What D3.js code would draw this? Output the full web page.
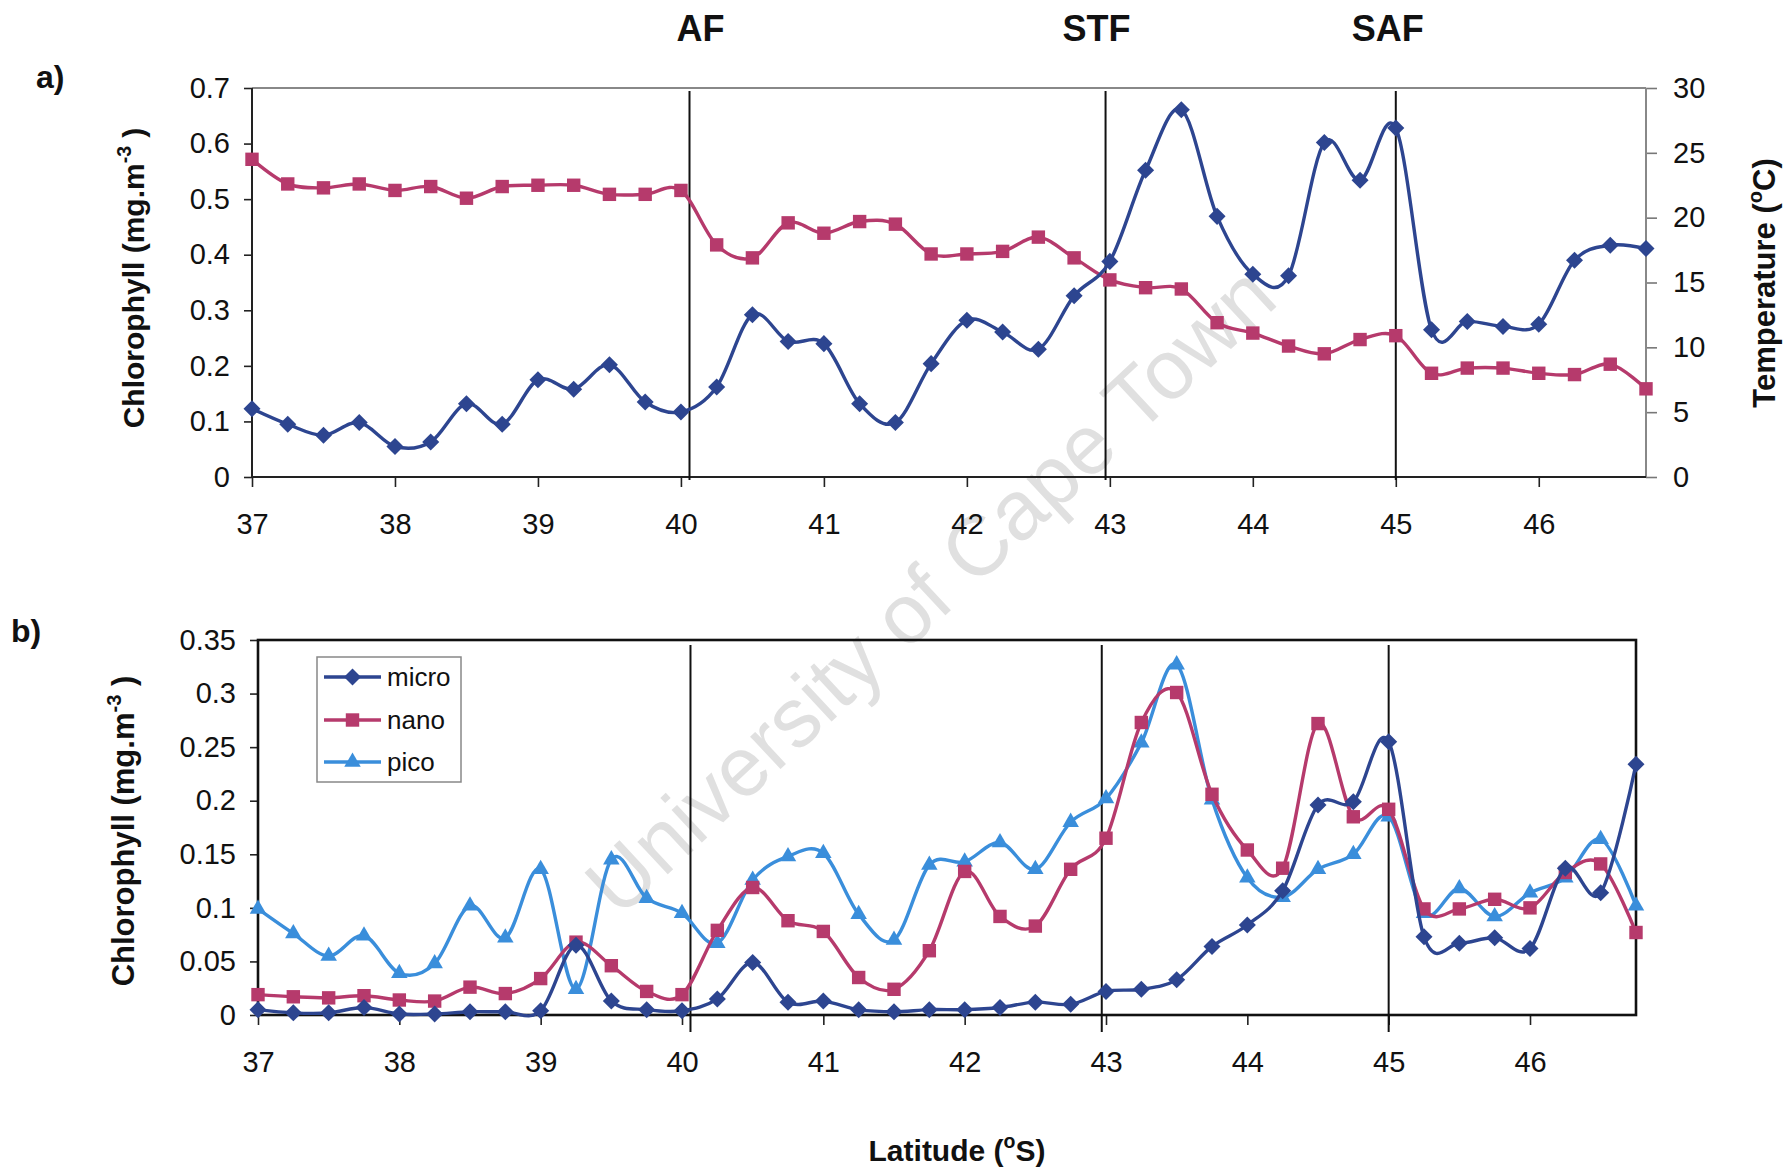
<!DOCTYPE html>
<html><head><meta charset="utf-8">
<script src="https://cdn.jsdelivr.net/npm/d3@7"></script>
<style>body{margin:0;background:#fff}svg text{font-family:"Liberation Sans",Arial,sans-serif}</style>
</head><body><svg id="c" width="1784" height="1171"></svg>
<script>
// ---------- data ----------
const latitude = [37,37.25,37.5,37.75,38,38.25,38.5,38.75,39,39.25,39.5,39.75,40,40.25,
  40.5,40.75,41,41.25,41.5,41.75,42,42.25,42.5,42.75,43,43.25,
  43.5,43.75,44,44.25,44.5,44.75,45,45.25,45.5,45.75,46,46.25,46.5,46.75];
// panel a
const chlorophyll = [0.123,0.095,0.075,0.098,0.055,0.063,0.132,0.095,0.175,0.158,0.202,0.135,0.117,0.162,
  0.292,0.244,0.240,0.132,0.098,0.204,0.282,0.261,0.230,0.326,0.388,0.552,
  0.661,0.469,0.365,0.362,0.602,0.534,0.628,0.265,0.280,0.271,0.275,0.390,0.417,0.411];
const temperature = [24.5,22.6,22.3,22.6,22.1,22.4,21.5,22.4,22.5,22.5,21.8,21.8,22.1,17.9,
  16.9,19.6,18.8,19.7,19.5,17.2,17.2,17.4,18.5,16.9,15.2,14.6,
  14.5,11.9,11.1,10.1,9.5,10.6,10.9,8.0,8.4,8.4,8.0,7.9,8.7,6.8];
// panel b
const micro = [0.005,0.002,0.002,0.007,0.001,0.001,0.003,0.003,0.004,0.065,0.013,0.005,0.004,0.015,
  0.049,0.012,0.013,0.005,0.003,0.005,0.005,0.007,0.012,0.010,0.022,0.024,
  0.033,0.064,0.084,0.116,0.196,0.199,0.255,0.073,0.067,0.072,0.062,0.137,0.114,0.234];
const nano = [0.019,0.017,0.016,0.018,0.014,0.013,0.026,0.020,0.034,0.068,0.046,0.022,0.019,0.079,
  0.119,0.088,0.078,0.035,0.024,0.060,0.134,0.092,0.083,0.136,0.165,0.273,
  0.301,0.206,0.154,0.137,0.272,0.185,0.192,0.099,0.099,0.108,0.100,0.133,0.141,0.077];
const pico = [0.099,0.076,0.055,0.074,0.039,0.048,0.102,0.072,0.136,0.024,0.145,0.109,0.095,0.067,
  0.126,0.148,0.151,0.094,0.070,0.140,0.143,0.161,0.136,0.180,0.202,0.254,
  0.327,0.201,0.128,0.110,0.136,0.150,0.185,0.095,0.118,0.092,0.114,0.128,0.164,0.102];
const seriesNames = ["micro","nano","pico"];
const fronts = [40.06, 42.97, 45.0];
const frontNames = ["AF","STF","SAF"];
const latTicks = [37,38,39,40,41,42,43,44,45,46];
const chlTicksA = [0,0.1,0.2,0.3,0.4,0.5,0.6,0.7];
const tempTicks = [0,5,10,15,20,25,30];
const chlTicksB = [0,0.05,0.1,0.15,0.2,0.25,0.3,0.35];

// ---------- styles ----------
const C_DARK = "#2d4590", C_RED = "#b63a6c", C_LIGHT = "#3a8edb";
const svg = d3.select("#c");
const FONT_TICK = 29;

// watermark
svg.append("text").attr("transform","translate(930,590) rotate(-43)")
  .attr("text-anchor","middle").attr("dominant-baseline","central")
  .attr("font-size",84).attr("fill","#e0e0e0").text("University of Cape Town");

const curve = d3.curveCardinal.tension(0);
function marker(g, type, cx, cy, color){
  let sym, rot = 0;
  if(type==="diamond"){ sym = d3.symbol(d3.symbolSquare, 145); rot = 45; }
  else if(type==="square"){ sym = d3.symbol(d3.symbolSquare, 180); }
  else { sym = d3.symbol(d3.symbolTriangle, 118); }
  g.append("path").attr("d", sym()).attr("fill", color)
    .attr("transform", `translate(${cx},${cy}) rotate(${rot})`);
}
function drawSeries(g, xs, ys, values, color, type){
  const pts = latitude.map((l,i)=>[xs(l), ys(values[i])]);
  g.append("path").attr("d", d3.line().curve(curve)(pts))
    .attr("fill","none").attr("stroke",color).attr("stroke-width",3.4);
  pts.forEach(p=>marker(g,type,p[0],p[1],color));
}
function styleAxis(sel, color){
  sel.select(".domain").remove();
  sel.selectAll(".tick line").attr("stroke",color).attr("stroke-width",1.6);
  sel.selectAll(".tick text").attr("font-size",FONT_TICK).attr("fill","#111")
     .style("font-family",'"Liberation Sans",Arial,sans-serif');
}

// ---------- panel a ----------
const A = {l:252, r:1646, t:88, b:477};
const xA = d3.scaleLinear().domain([37,46.75]).range([A.l,A.r]);
const yA = d3.scaleLinear().domain([0,0.7]).range([A.b,A.t]);
const tA = d3.scaleLinear().domain([0,30]).range([A.b,A.t]);
const gA = svg.append("g");

gA.append("g").attr("transform",`translate(${A.l},0)`)
  .call(d3.axisLeft(yA).tickValues(chlTicksA).tickFormat(d=>String(d)).tickSize(8).tickPadding(14))
  .call(s=>styleAxis(s,"#222"));
gA.append("g").attr("transform",`translate(${A.r},0)`)
  .call(d3.axisRight(tA).tickValues(tempTicks).tickSize(11).tickPadding(16))
  .call(s=>styleAxis(s,"#777"));
gA.append("g").attr("transform",`translate(0,${A.b})`)
  .call(d3.axisBottom(xA).tickValues(latTicks).tickFormat(d=>String(d)).tickSize(10).tickPadding(26))
  .call(s=>styleAxis(s,"#222"));
// frame
gA.append("line").attr("x1",A.l).attr("x2",A.r).attr("y1",A.t).attr("y2",A.t).attr("stroke","#888").attr("stroke-width",2);
gA.append("line").attr("x1",A.r).attr("x2",A.r).attr("y1",A.t).attr("y2",A.b).attr("stroke","#888").attr("stroke-width",2);
gA.append("line").attr("x1",A.l).attr("x2",A.l).attr("y1",A.t).attr("y2",A.b).attr("stroke","#222").attr("stroke-width",2);
gA.append("line").attr("x1",A.l).attr("x2",A.r).attr("y1",A.b).attr("y2",A.b).attr("stroke","#222").attr("stroke-width",2);
// fronts
fronts.forEach(f=>{
  gA.append("line").attr("x1",xA(f)).attr("x2",xA(f)).attr("y1",A.t+3).attr("y2",A.b+3)
    .attr("stroke","#111").attr("stroke-width",2);
});
const frontDx = [11,-9,-8];
fronts.forEach((f,i)=>{
  svg.append("text").attr("x",xA(f)+frontDx[i]).attr("y",41).attr("text-anchor","middle")
    .attr("font-size",36).attr("font-weight","bold").attr("fill","#111").text(frontNames[i]);
});
drawSeries(gA, xA, tA, temperature, C_RED, "square");
drawSeries(gA, xA, yA, chlorophyll, C_DARK, "diamond");

// titles a
function supLabel(parent, x, y, rot, pre, sup, post, size){
  const t = parent.append("text").attr("transform",`translate(${x},${y}) rotate(${rot})`)
    .attr("text-anchor","middle").attr("font-size",size).attr("font-weight","bold").attr("fill","#111");
  t.append("tspan").text(pre);
  t.append("tspan").attr("font-size",size*0.65).attr("dy",-size*0.42).text(sup);
  t.append("tspan").attr("dy",size*0.42).text(post);
  return t;
}
supLabel(svg, 144, 278, -90, "Chlorophyll (mg.m", "-3", " )", 30);
supLabel(svg, 1775, 283, -90, "Temperature (", "o", "C)", 31);
svg.append("text").attr("x",36).attr("y",88).attr("font-size",32).attr("font-weight","bold").attr("fill","#111").text("a)");

// ---------- panel b ----------
const B = {l:258, r:1636, t:640, b:1015};
const xB = d3.scaleLinear().domain([37,46.75]).range([B.l,B.r]);
const yB = d3.scaleLinear().domain([0,0.35]).range([B.b,B.t]);
const gB = svg.append("g");
gB.append("g").attr("transform",`translate(${B.l},0)`)
  .call(d3.axisLeft(yB).tickValues(chlTicksB).tickFormat(d=>String(d)).tickSize(8).tickPadding(14))
  .call(s=>styleAxis(s,"#222"));
gB.append("g").attr("transform",`translate(0,${B.b})`)
  .call(d3.axisBottom(xB).tickValues(latTicks).tickFormat(d=>String(d)).tickSize(10).tickPadding(26))
  .call(s=>styleAxis(s,"#222"));
gB.append("rect").attr("x",B.l).attr("y",B.t).attr("width",B.r-B.l).attr("height",B.b-B.t)
  .attr("fill","none").attr("stroke","#111").attr("stroke-width",2.6);
fronts.forEach(f=>{
  gB.append("line").attr("x1",xB(f)).attr("x2",xB(f)).attr("y1",B.t+5).attr("y2",B.b+17)
    .attr("stroke","#111").attr("stroke-width",2);
});
const bSeries = [micro, nano, pico];
const bColors = [C_DARK, C_RED, C_LIGHT];
const bTypes = ["diamond","square","triangle"];
[2,1,0].forEach(i=>drawSeries(gB, xB, yB, bSeries[i], bColors[i], bTypes[i]));

// legend
const lg = svg.append("g");
lg.append("rect").attr("x",317).attr("y",657).attr("width",144).attr("height",125)
  .attr("fill","#fff").attr("stroke","#888").attr("stroke-width",1.5);
const legY = [677, 720, 762];
seriesNames.forEach((n,i)=>{
  lg.append("line").attr("x1",324).attr("x2",381).attr("y1",legY[i]).attr("y2",legY[i])
    .attr("stroke",bColors[i]).attr("stroke-width",3.4);
  marker(lg, bTypes[i], 352.5, legY[i], bColors[i]);
  lg.append("text").attr("x",387).attr("y",legY[i]+9).attr("font-size",26).attr("fill","#111").text(n);
});

supLabel(svg, 134, 831, -90, "Chlorophyll (mg.m", "-3", " )", 31);
supLabel(svg, 957, 1161, 0, "Latitude (", "o", "S)", 30);
svg.append("text").attr("x",11).attr("y",642).attr("font-size",32).attr("font-weight","bold").attr("fill","#111").text("b)");
</script></body></html>
